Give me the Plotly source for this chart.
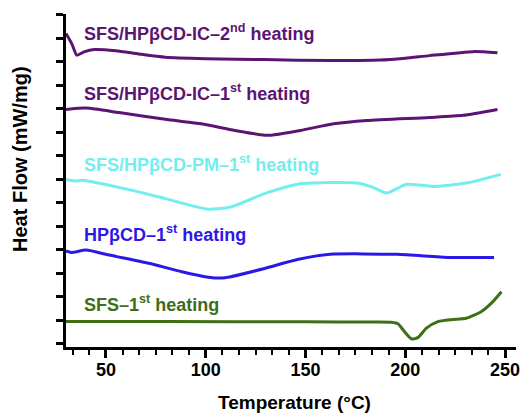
import plotly.graph_objects as go

# ---- data ----
ic2_T = [30, 33, 35.4, 39, 44.2, 55, 66.5, 79.8, 100, 129.5, 162.4, 187.3, 200, 212.1, 234, 246.2]
ic2_Y = [13.2, 12.75, 12.28, 12.42, 12.52, 12.47, 12.33, 12.19, 12.13, 12.09, 12.05, 12.07, 12.15, 12.26, 12.43, 12.38]

ic1_T = [30, 40.1, 56.6, 81.5, 97.8, 114.6, 131.1, 147.5, 164.2, 180.8, 212.1, 229, 246.2]
ic1_Y = [9.97, 10.03, 9.84, 9.53, 9.36, 9.08, 8.87, 9.08, 9.36, 9.50, 9.63, 9.72, 9.97]

pm_T = [30, 35.1, 38.2, 63.1, 79.8, 101.3, 112.7, 129.5, 146, 160.9, 175.8, 183.8, 190.7, 200.7, 213.9, 230.5, 247.9]
pm_Y = [6.98, 6.93, 6.96, 6.53, 6.18, 5.73, 5.83, 6.39, 6.79, 6.86, 6.84, 6.66, 6.42, 6.79, 6.70, 6.84, 7.21]

hp_T = [30, 32.6, 40.1, 51.6, 71.5, 88, 101.3, 107.3, 112.7, 129.5, 146, 162.4, 195.7, 222, 244.5]
hp_Y = [3.96, 3.89, 3.99, 3.78, 3.43, 3.07, 2.84, 2.80, 2.86, 3.21, 3.59, 3.81, 3.81, 3.68, 3.68]

sfs_T = [30, 80, 150, 185, 193, 196.5, 199, 203.2, 206.5, 210.6, 216.4, 225.5, 230.5, 238, 243.8, 248.2]
sfs_Y = [0.95, 0.95, 0.94, 0.93, 0.92, 0.85, 0.59, 0.21, 0.28, 0.67, 0.95, 1.05, 1.09, 1.37, 1.79, 2.22]

labels = ["SFS/HPβCD-IC–2<sup>nd</sup> heating",
          "SFS/HPβCD-IC–1<sup>st</sup> heating",
          "SFS/HPβCD-PM–1<sup>st</sup> heating",
          "HPβCD–1<sup>st</sup> heating",
          "SFS–1<sup>st</sup> heating"]
label_Y = [13.24, 10.69, 7.68, 4.71, 1.70]
label_T = 38.2

x_ticks = [50, 100, 150, 200, 250]

colors = ["#5c1472", "#5c1472", "#72eeee", "#2c18e6", "#3e6e16"]

FONT = "Arial, Liberation Sans, sans-serif"

series = [(ic2_T, ic2_Y), (ic1_T, ic1_Y), (pm_T, pm_Y), (hp_T, hp_Y), (sfs_T, sfs_Y)]

fig = go.Figure()
for (t, y), c in zip(series, colors):
    fig.add_trace(go.Scatter(x=t, y=y, mode="lines",
                             line=dict(color=c, width=3, shape="spline", smoothing=0.6),
                             showlegend=False, hoverinfo="skip"))

for txt, yv, c in zip(labels, label_Y, colors):
    fig.add_annotation(x=label_T, y=yv, xref="x", yref="y", text=txt,
                       showarrow=False, xanchor="left", yanchor="middle",
                       font=dict(family=FONT, size=18, color=c, weight="bold"))

fig.add_annotation(text="Heat Flow (mW/mg)", xref="paper", yref="paper",
                   x=-0.102, y=0.565, textangle=-90, showarrow=False,
                   xanchor="center", yanchor="middle",
                   font=dict(family=FONT, size=20, color="black", weight="bold"))
fig.add_annotation(text="Temperature (°C)", xref="paper", yref="paper",
                   x=0.508, y=-0.168, showarrow=False,
                   xanchor="center", yanchor="middle",
                   font=dict(family=FONT, size=19, color="black", weight="bold"))

fig.update_xaxes(range=[30, 255.5], tickvals=x_ticks, ticks="outside", ticklen=8,
                 tickwidth=3, tickcolor="black", showline=True, linecolor="black",
                 linewidth=3, showgrid=False, zeroline=False, ticklabelstandoff=-4,
                 tickfont=dict(family=FONT, size=18, color="black", weight="bold"),
                 minor=dict(tick0=0, dtick=50/6, ticks="outside", ticklen=5,
                            tickwidth=2, tickcolor="black", showgrid=False))
fig.update_yaxes(range=[-0.13, 14.03], tick0=0, dtick=1, ticks="outside", ticklen=7,
                 tickwidth=3, tickcolor="black", showline=True, linecolor="black",
                 linewidth=3, showgrid=False, zeroline=False, showticklabels=False)

fig.update_layout(width=526, height=414, margin=dict(l=66, r=6, t=14, b=67),
                  plot_bgcolor="white", paper_bgcolor="white")

fig.write_html("out.html")
